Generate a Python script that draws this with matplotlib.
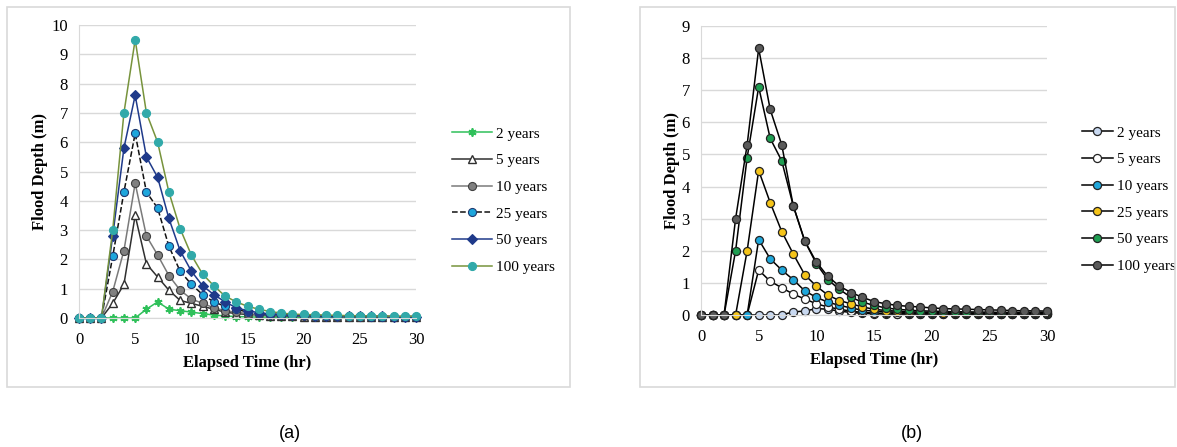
import matplotlib.pyplot as plt
from matplotlib.patches import Rectangle

hours = list(range(31))

# panel (a) flood depth (m)
a_2yr = [0, 0, 0, 0, 0, 0, 0.3, 0.55, 0.3, 0.25, 0.2, 0.15, 0.1, 0.07, 0.05, 0.04,
         0.03, 0.03, 0.02, 0.02, 0.02, 0.02, 0.02, 0.02, 0.02, 0.02, 0.02, 0.02, 0.02, 0.02, 0.02]
a_5yr = [0, 0, 0, 0.5, 1.15, 3.5, 1.85, 1.4, 0.95, 0.6, 0.5, 0.4, 0.3, 0.2, 0.15, 0.12,
         0.1, 0.08, 0.07, 0.06, 0.05, 0.05, 0.05, 0.04, 0.04, 0.04, 0.04, 0.03, 0.03, 0.03, 0.03]
a_10yr = [0, 0, 0, 0.9, 2.3, 4.6, 2.8, 2.15, 1.45, 0.95, 0.65, 0.5, 0.35, 0.25, 0.2, 0.15,
          0.12, 0.1, 0.09, 0.08, 0.07, 0.06, 0.06, 0.05, 0.05, 0.05, 0.04, 0.04, 0.04, 0.04, 0.04]
a_25yr = [0, 0, 0, 2.1, 4.3, 6.3, 4.3, 3.75, 2.45, 1.6, 1.15, 0.8, 0.55, 0.4, 0.3, 0.2,
          0.16, 0.13, 0.11, 0.1, 0.09, 0.08, 0.07, 0.07, 0.06, 0.06, 0.05, 0.05, 0.05, 0.05, 0.05]
a_50yr = [0, 0, 0, 2.8, 5.8, 7.6, 5.5, 4.8, 3.4, 2.3, 1.6, 1.1, 0.8, 0.55, 0.35, 0.25,
          0.18, 0.14, 0.12, 0.1, 0.09, 0.08, 0.08, 0.07, 0.07, 0.06, 0.06, 0.06, 0.05, 0.05, 0.05]
a_100yr = [0, 0, 0, 3.0, 7.0, 9.5, 7.0, 6.0, 4.3, 3.05, 2.15, 1.5, 1.1, 0.75, 0.55, 0.4,
           0.3, 0.22, 0.17, 0.13, 0.12, 0.11, 0.1, 0.09, 0.08, 0.08, 0.07, 0.07, 0.06, 0.06, 0.06]

# panel (b) flood depth (m)
b_2yr = [0, 0, 0, 0, 0, 0, 0, 0, 0.1, 0.12, 0.2, 0.18, 0.12, 0.08, 0.05, 0.04,
         0.03, 0.03, 0.03, 0.03, 0.03, 0.03, 0.03, 0.03, 0.03, 0.03, 0.03, 0.03, 0.03, 0.03, 0.03]
b_5yr = [0, 0, 0, 0, 0, 1.4, 1.05, 0.85, 0.65, 0.5, 0.35, 0.25, 0.18, 0.12, 0.08, 0.06,
         0.05, 0.04, 0.04, 0.04, 0.03, 0.03, 0.03, 0.03, 0.03, 0.03, 0.03, 0.03, 0.03, 0.03, 0.03]
b_10yr = [0, 0, 0, 0, 0, 2.35, 1.75, 1.4, 1.1, 0.75, 0.55, 0.4, 0.3, 0.22, 0.15, 0.12,
          0.1, 0.08, 0.07, 0.06, 0.06, 0.05, 0.05, 0.05, 0.05, 0.04, 0.04, 0.04, 0.04, 0.04, 0.04]
b_25yr = [0, 0, 0, 0, 2.0, 4.5, 3.5, 2.6, 1.9, 1.25, 0.9, 0.62, 0.45, 0.35, 0.25, 0.18,
          0.14, 0.12, 0.1, 0.09, 0.08, 0.07, 0.07, 0.06, 0.06, 0.06, 0.05, 0.05, 0.05, 0.05, 0.05]
b_50yr = [0, 0, 0, 2.0, 4.9, 7.1, 5.5, 4.8, 3.4, 2.3, 1.6, 1.1, 0.8, 0.55, 0.4, 0.3,
          0.22, 0.18, 0.15, 0.13, 0.12, 0.11, 0.1, 0.1, 0.09, 0.09, 0.08, 0.08, 0.08, 0.08, 0.08]
b_100yr = [0, 0, 0, 3.0, 5.3, 8.3, 6.4, 5.3, 3.4, 2.3, 1.65, 1.2, 0.9, 0.7, 0.55, 0.42,
           0.35, 0.3, 0.27, 0.25, 0.22, 0.2, 0.19, 0.18, 0.17, 0.16, 0.15, 0.14, 0.13, 0.13, 0.12]

labels = ['2 years', '5 years', '10 years', '25 years', '50 years', '100 years']

W, H = 1177, 447
fig = plt.figure(figsize=(W / 100, H / 100), dpi=100)

serif = 'Liberation Serif'
fs = 12

# panel frames
for x0, x1 in [(7, 570), (640, 1175)]:
    fig.patches.append(Rectangle((x0 / W, 1 - 387 / H), (x1 - x0) / W, 380 / H,
                                 transform=fig.transFigure, fill=False,
                                 edgecolor='#d9d9d9', linewidth=1.2))

ax1 = fig.add_axes([79 / W, 1 - 318 / H, (416 - 79) / W, (318 - 25) / H])
ax2 = fig.add_axes([701 / W, 1 - 315 / H, (1047 - 701) / W, (315 - 26) / H])

lw = 1.1
ms = 5.8
s1 = [
    dict(y=a_2yr, color='#2fc05a', marker=(6, 2, 0), mfc='#2fc05a', mec='#2fc05a', ls='-', mew=1.3),
    dict(y=a_5yr, color='#303030', marker='^', mfc='white', mec='#303030', ls='-', mew=1.0),
    dict(y=a_10yr, color='#7a7a7a', marker='o', mfc='#808080', mec='#404040', ls='-', mew=0.8),
    dict(y=a_25yr, color='#111111', marker='o', mfc='#1ea6dc', mec='#1f3a70', ls='--', mew=0.8),
    dict(y=a_50yr, color='#1f3a8a', marker='D', mfc='#1f3a8a', mec='#1f3a8a', ls='-', mew=0.8),
    dict(y=a_100yr, color='#77933c', marker='o', mfc='#31a9a9', mec='#31a9a9', ls='-', mew=0.8),
]
for lab, s in zip(labels, s1):
    m = ms - 1.2 if s['marker'] == 'D' else ms
    ax1.plot(hours, s['y'], color=s['color'], ls=s['ls'], lw=lw, marker=s['marker'],
             markersize=m, markerfacecolor=s['mfc'], markeredgecolor=s['mec'],
             markeredgewidth=s['mew'], label=lab, clip_on=False)

s2_faces = ['#c8d8f0', 'white', '#1fa7db', '#f5c419', '#1f9e52', '#5a5a5a']
for lab, y, fc in zip(labels, [b_2yr, b_5yr, b_10yr, b_25yr, b_50yr, b_100yr], s2_faces):
    ax2.plot(hours, y, color='black', lw=lw, marker='o', markersize=ms,
             markerfacecolor=fc, markeredgecolor='#222222', markeredgewidth=0.9,
             label=lab, clip_on=False)

for ax, top, ypad in [(ax1, 10, 2), (ax2, 9, 1)]:
    ax.set_xlim(0, 30)
    ax.set_ylim(0, top)
    ax.set_xticks(range(0, 31, 5))
    ax.set_yticks(range(0, top + 1))
    ax.grid(axis='y', color='#d9d9d9', lw=1.0)
    ax.set_axisbelow(True)
    for sp in ['top', 'right']:
        ax.spines[sp].set_visible(False)
    ax.spines['left'].set_color('#d9d9d9')
    ax.spines['bottom'].set_color('#d9d9d9')
    ax.tick_params(axis='x', length=0, labelsize=fs, pad=10)
    ax.tick_params(axis='y', length=0, labelsize=fs, pad=8)
    for t in ax.get_xticklabels() + ax.get_yticklabels():
        t.set_fontfamily(serif)
    ax.set_xlabel('Elapsed Time (hr)', fontfamily=serif, fontweight='bold', fontsize=fs, labelpad=5)
    ax.set_ylabel('Flood Depth (m)', fontfamily=serif, fontweight='bold', fontsize=fs, labelpad=ypad)

leg_kw = dict(loc='upper left', frameon=False, borderpad=0, borderaxespad=0,
              labelspacing=0.85, handletextpad=0.3, prop={'family': serif, 'size': 11})
ax1.legend(bbox_to_anchor=(452 / W, 1 - 127 / H), bbox_transform=fig.transFigure,
           handlelength=2.6, **leg_kw)
ax2.legend(bbox_to_anchor=(1082 / W, 1 - 126 / H), bbox_transform=fig.transFigure,
           handlelength=2.0, **leg_kw)

fig.text(290 / W, 1 - 433 / H, '(a)', ha='center', va='center',
         fontfamily='Liberation Sans', fontsize=13)
fig.text(912 / W, 1 - 433 / H, '(b)', ha='center', va='center',
         fontfamily='Liberation Sans', fontsize=13)

fig.savefig('out.png', dpi=100)
